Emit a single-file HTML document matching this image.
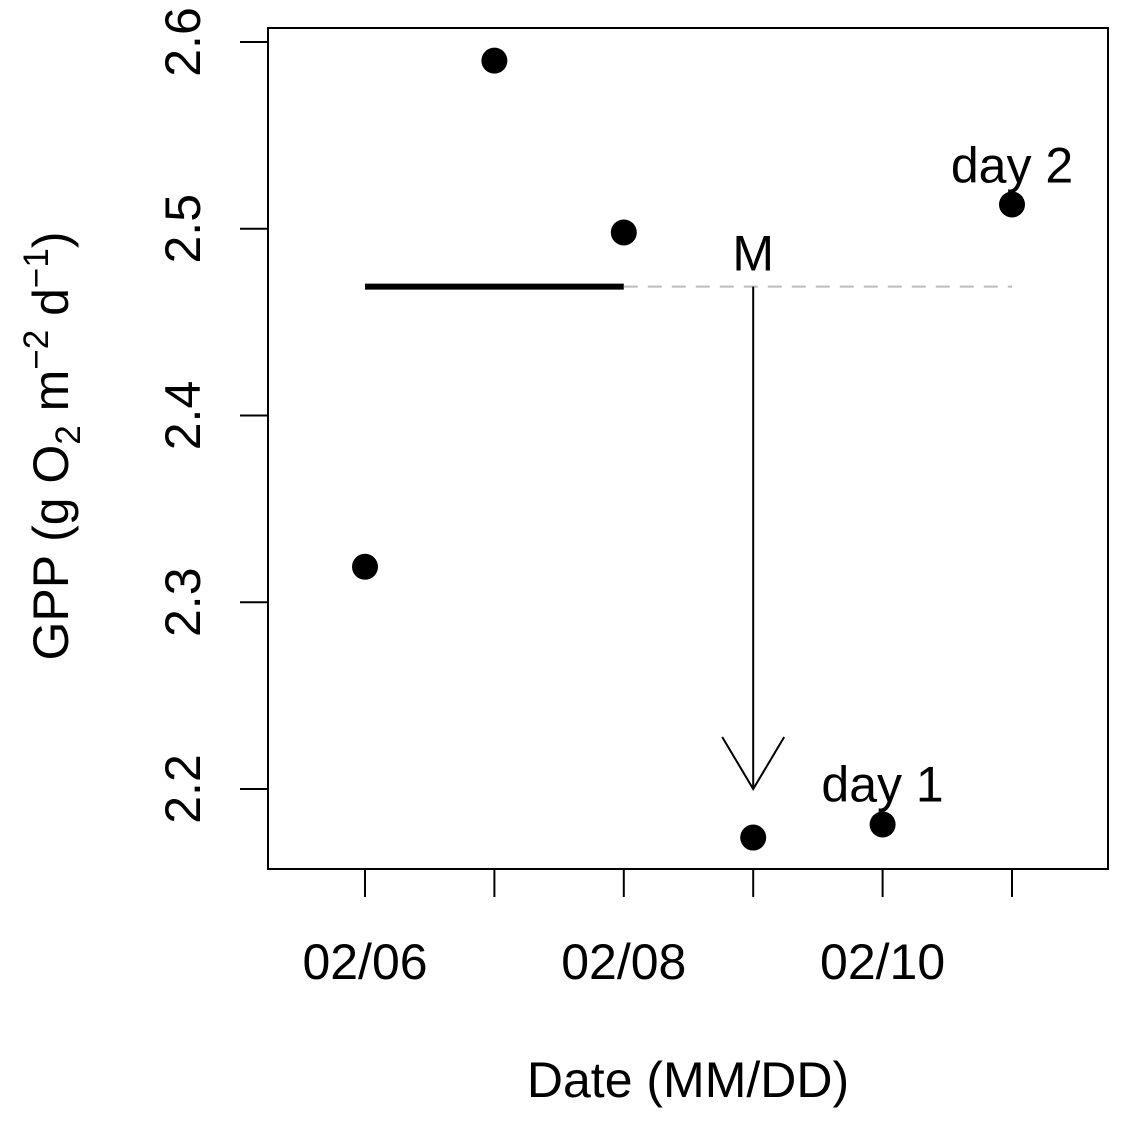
<!DOCTYPE html>
<html><head><meta charset="utf-8"><style>body{margin:0;background:#fff}svg{display:block}text{font-family:"Liberation Sans",Arial,sans-serif;fill:#000}</style></head>
<body>
<svg id="chart" width="1123" height="1123" viewBox="0 0 1123 1123" xmlns="http://www.w3.org/2000/svg">
<rect x="268" y="28" width="840" height="841" fill="none" stroke="#000" stroke-width="2"/>
<g id="marks"></g>
<text x="688" y="1097" font-size="50" text-anchor="middle">Date (MM/DD)</text>
<text transform="translate(68,446) rotate(-90)" font-size="50" text-anchor="middle">GPP (g O<tspan font-size="35" dy="12">2</tspan><tspan dy="-12"> m</tspan><tspan font-size="35" dy="-20">−2</tspan><tspan dy="20"> d</tspan><tspan font-size="35" dy="-20">−1</tspan><tspan dy="20">)</tspan></text>
</svg>
<script>
const dates=['02/06','02/07','02/08','02/09','02/10','02/11'];
const gpp=[2.319,2.590,2.498,2.174,2.181,2.513];
const yTicks=[2.2,2.3,2.4,2.5,2.6];
const xTickLabels=['02/06','','02/08','','02/10',''];
const meanValue=2.469;
const X=i=>365+i*129.4;
const Y=v=>789-(v-2.2)*1867.5;
const NS='http://www.w3.org/2000/svg';
const g=document.getElementById('marks');
function mk(t,a){const e=document.createElementNS(NS,t);for(const k in a)e.setAttribute(k,a[k]);g.appendChild(e);return e;}
yTicks.forEach(v=>{
 const l=mk('line',{x1:240,x2:268,y1:Y(v),y2:Y(v),stroke:'#000','stroke-width':2});
 
 
 const t=mk('text',{transform:`translate(200,${Y(v)}) rotate(-90)`,'font-size':50,'text-anchor':'middle'});
 t.textContent=v.toFixed(1);
 
 
});
dates.forEach((d,i)=>{
 const l=mk('line',{x1:X(i),x2:X(i),y1:869,y2:897,stroke:'#000','stroke-width':2});
 
 
 if(xTickLabels[i]){const t=mk('text',{x:X(i),y:979,'font-size':50,'text-anchor':'middle'});t.textContent=xTickLabels[i];
 
 }
});
const ml=mk('line',{x1:X(0),x2:X(2),y1:Y(meanValue),y2:Y(meanValue),stroke:'#000','stroke-width':6});


const dl=mk('line',{x1:X(2),x2:X(5),y1:Y(meanValue),y2:Y(meanValue),stroke:'#bbb','stroke-width':2,'stroke-dasharray':'14,10'});


const ar=mk('path',{d:`M${X(3)},${Y(meanValue)}V${Y(2.2)}M${X(3)-31},${Y(2.2)-52}L${X(3)},${Y(2.2)}L${X(3)+31},${Y(2.2)-52}`,stroke:'#000','stroke-width':2,fill:'none'});


gpp.forEach((v,i)=>{const c=mk('circle',{cx:X(i),cy:Y(v),r:13,fill:'#000'});
 
 });
[['M',X(3),Y(meanValue)-16,'label-m'],['day 1',X(4),Y(gpp[4])-23,'label-day1'],['day 2',X(5),Y(gpp[5])-22,'label-day2']].forEach(a=>{
 const t=mk('text',{x:a[1],y:a[2],'font-size':50,'text-anchor':'middle'});t.textContent=a[0];
 
 });
</script>
</body></html>
